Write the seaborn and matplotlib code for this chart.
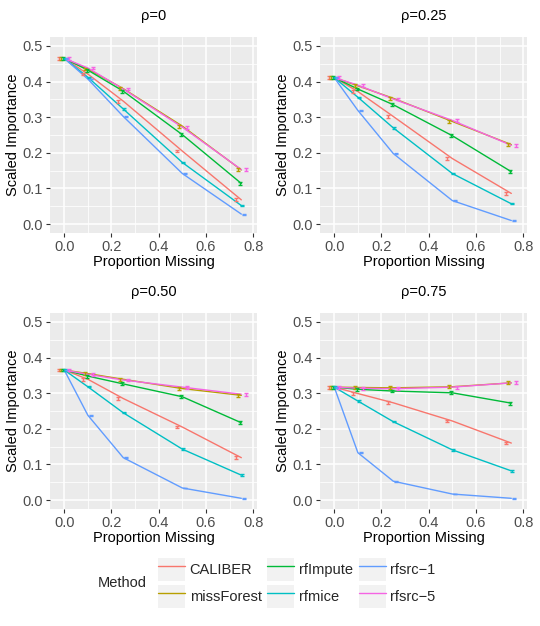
import numpy as np
import pandas as pd
import matplotlib
matplotlib.use("Agg")
import matplotlib.pyplot as plt
import seaborn as sns
from matplotlib.lines import Line2D
from matplotlib.patches import Rectangle
from matplotlib.legend_handler import HandlerTuple
from matplotlib.ticker import MultipleLocator

# ---------------- data ----------------
methods = ["CALIBER", "missForest", "rfImpute", "rfmice", "rfsrc\u22121", "rfsrc\u22125"]
colors = ["#F8766D", "#B79F00", "#00BA38", "#00BFC4", "#619CFF", "#F564E3"]
prop_missing = [0.0, 0.1, 0.25, 0.5, 0.75]
panel_titles = ["\u03c1=0", "\u03c1=0.25", "\u03c1=0.50", "\u03c1=0.75"]
x_ticks = [0.0, 0.2, 0.4, 0.6, 0.8]
x_tick_labels = ["0.0", "0.2", "0.4", "0.6", "0.8"]
y_ticks = [0.0, 0.1, 0.2, 0.3, 0.4, 0.5]
y_tick_labels = ["0.0", "0.1", "0.2", "0.3", "0.4", "0.5"]

# scaled importance, one list per method (order of prop_missing)
rho_000 = {
    "CALIBER":    [0.465, 0.421, 0.345, 0.205, 0.068],
    "missForest": [0.465, 0.435, 0.380, 0.275, 0.152],
    "rfImpute":   [0.465, 0.432, 0.373, 0.251, 0.114],
    "rfmice":     [0.465, 0.412, 0.323, 0.173, 0.052],
    "rfsrc\u22121":    [0.465, 0.407, 0.302, 0.142, 0.028],
    "rfsrc\u22125":    [0.465, 0.438, 0.379, 0.272, 0.153],
}
rho_025 = {
    "CALIBER":    [0.411, 0.372, 0.302, 0.184, 0.086],
    "missForest": [0.411, 0.388, 0.353, 0.288, 0.223],
    "rfImpute":   [0.411, 0.379, 0.335, 0.248, 0.147],
    "rfmice":     [0.411, 0.356, 0.270, 0.142, 0.057],
    "rfsrc\u22121":    [0.411, 0.319, 0.198, 0.066, 0.010],
    "rfsrc\u22125":    [0.411, 0.390, 0.351, 0.291, 0.221],
}
rho_050 = {
    "CALIBER":    [0.365, 0.339, 0.285, 0.205, 0.119],
    "missForest": [0.365, 0.355, 0.339, 0.313, 0.294],
    "rfImpute":   [0.365, 0.348, 0.326, 0.290, 0.217],
    "rfmice":     [0.365, 0.318, 0.245, 0.143, 0.070],
    "rfsrc\u22121":    [0.365, 0.238, 0.119, 0.034, 0.005],
    "rfsrc\u22125":    [0.365, 0.353, 0.337, 0.317, 0.297],
}
rho_075 = {
    "CALIBER":    [0.317, 0.299, 0.273, 0.222, 0.160],
    "missForest": [0.317, 0.316, 0.315, 0.318, 0.329],
    "rfImpute":   [0.317, 0.311, 0.306, 0.301, 0.272],
    "rfmice":     [0.317, 0.278, 0.220, 0.141, 0.082],
    "rfsrc\u22121":    [0.317, 0.133, 0.053, 0.017, 0.005],
    "rfsrc\u22125":    [0.317, 0.314, 0.3125, 0.317, 0.329],
}
# approximate standard errors per method
std_err = [0.004, 0.004, 0.004, 0.002, 0.0012, 0.004]

panels = [rho_000, rho_025, rho_050, rho_075]

# ---------------- style ----------------
sns.set_theme(style="darkgrid")
plt.rcParams["font.family"] = ["Liberation Sans", "DejaVu Sans"]

fig = plt.figure(figsize=(5.4, 6.26), dpi=100)
W, H = 540, 626
boxes = [(50, 37), (320, 37), (50, 313), (320, 313)]
pw, ph = 207, 196

palette = dict(zip(methods, colors))
dodge = [(i - 2.5) * 0.00833 for i in range(len(methods))]

for k, (data, title, (x0, y0)) in enumerate(zip(panels, panel_titles, boxes)):
    ax = fig.add_axes([x0 / W, 1 - (y0 + ph) / H, pw / W, ph / H])
    rows = []
    for m in methods:
        for xv, yv in zip(prop_missing, data[m]):
            rows.append({"Method": m, "prop": xv, "imp": yv})
    df = pd.DataFrame(rows)
    sns.lineplot(data=df, x="prop", y="imp", hue="Method", hue_order=methods,
                 palette=palette, ax=ax, legend=False, linewidth=1.0, zorder=3)
    for i, m in enumerate(methods):
        xs = np.array(prop_missing) + dodge[i]
        ax.errorbar(xs, data[m], yerr=std_err[i], fmt="none", ecolor=colors[i],
                    elinewidth=1.0, capsize=1.5, capthick=1.0, zorder=4)
    ax.set_facecolor("#EBEBEB")
    ax.set_xlim(-0.0604, 0.8164)
    ax.set_ylim(-0.025, 0.525)
    ax.xaxis.set_minor_locator(MultipleLocator(0.1))
    ax.yaxis.set_minor_locator(MultipleLocator(0.05))
    ax.set_xticks(x_ticks)
    ax.set_xticklabels(x_tick_labels)
    ax.set_yticks(y_ticks)
    ax.set_yticklabels(y_tick_labels)
    ax.grid(which="major", color="white", linewidth=1.1)
    ax.grid(which="minor", color="white", linewidth=0.55)
    ax.set_axisbelow(True)
    for s in ax.spines.values():
        s.set_visible(False)
    ax.tick_params(which="major", length=3, width=0.8, color="#333333",
                   labelsize=10.5, labelcolor="#4D4D4D", pad=2, bottom=True, left=True)
    ax.tick_params(which="minor", length=0)
    ax.set_xlabel("Proportion Missing", fontsize=10.5, color="black", labelpad=1)
    ax.set_ylabel("Scaled Importance", fontsize=10.5, color="black", labelpad=2)
    ax.set_title(title, fontsize=10.5, color="black", pad=12)

# legend
handles = []
for c in colors:
    handles.append((Rectangle((0, 0), 1, 1, facecolor="#F2F2F2", edgecolor="none"),
                    Line2D([], [], color=c, linewidth=1.0)))
leg = fig.legend(handles, methods, ncol=3, loc="center left",
                 bbox_to_anchor=(151 / W, 1 - 583 / H), frameon=False,
                 handler_map={tuple: HandlerTuple(ndivide=1, pad=0)},
                 fontsize=10.5, handlelength=1.85, handleheight=2.0,
                 handletextpad=0.3, columnspacing=0.4, labelspacing=0.3,
                 borderpad=0)
fig.text(98 / W, 1 - 583 / H, "Method", fontsize=10.5, ha="left", va="center")

fig.savefig("out.png", dpi=100, facecolor="white")
